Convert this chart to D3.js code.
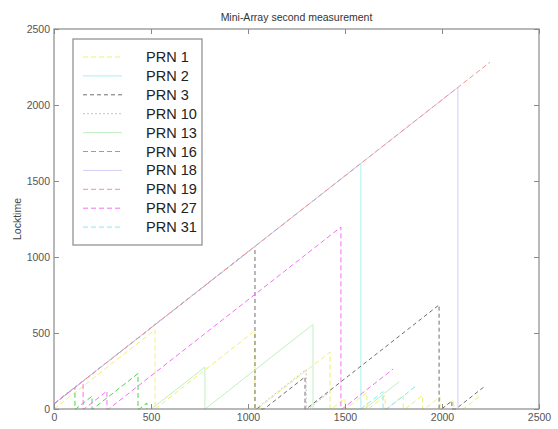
<!DOCTYPE html>
<html>
<head>
<meta charset="utf-8">
<script src="https://cdn.jsdelivr.net/npm/d3@7"></script>
<style>
  html, body { margin: 0; padding: 0; background: #fff; }
  svg { display: block; }
  text { font-family: "Liberation Sans", Arial, Helvetica, sans-serif; }
</style>
</head>
<body>
<svg id="chart" width="558" height="429"></svg>
<script>
// Locktime (s) of each tracked satellite against elapsed time (s).
// Each series is a list of [time, locktime] vertices of its sawtooth trace.
const prnNames = ["PRN 1", "PRN 2", "PRN 3", "PRN 10", "PRN 13", "PRN 16", "PRN 18", "PRN 19", "PRN 27", "PRN 31"];

const prn1 = [[0,0],[521,521],[521,0],[1036,515],[1036,0],[1048,0],[1423,375],[1423,0],
  [1430,0],[1500,70],[1500,0],[1505,0],[1613,108],[1613,0],[1620,0],[1707,87],[1707,0],
  [1712,0],[1800,88],[1800,0],[1810,0],[1900,90],[1900,0],[1910,0],[1990,80],[1990,0],
  [2000,0],[2060,60],[2060,0],[2110,0],[2200,90]];
const prn2 = [[0,34],[1582,1616],[1582,0]];
const prn3 = [[0,34],[1036,1070],[1036,0],[1045,0],[1060,15],[1060,0],[1083,0],[1294,211],[1294,0],
  [1300,0],[1985,685],[1985,0],[1998,0],[2051,53],[2051,0],[2071,0],[2222,151]];
const prn10 = [[1040,0],[1300,260],[1300,0],[1310,0],[1420,110]];
const prn13 = [[502,0],[778,276],[778,0],[779,0],[1335,556],[1335,0],[1600,0],[1780,180]];
const prn16 = [[0,34],[108,142],[108,0],[112,0],[196,84],[196,0],[200,0],[433,233],[433,0],
  [440,0],[479,39],[479,0]];
const prn18 = [[0,34],[2082,2116],[2082,0]];
const prn19 = [[0,34],[2247,2281]];
const prn27 = [[0,34],[150,184],[150,0],[155,0],[273,118],[273,0],[282,0],[1479,1197],[1479,0],
  [1485,0],[1748,263]];
const prn31 = [[1582,0],[1696,114],[1696,0],[1715,0],[1861,146]];

const seriesData = [prn1, prn2, prn3, prn10, prn13, prn16, prn18, prn19, prn27, prn31];

// Axis ranges and tick labels
const xTicks = [0, 500, 1000, 1500, 2000, 2500];
const yTicks = [0, 500, 1000, 1500, 2000, 2500];

// Line appearance per PRN
const colors = ["#f0f070", "#a0f2f2", "#6e6e6e", "#c4c4c4", "#c0f0c0", "#46d846", "#d4ccf8", "#f49090", "#f470f4", "#7cecee"];
const dashes = ["5,3", null, "4,3", "2,2", null, "5,3", null, "5,3", "5,3", "5,3"];

const svg = d3.select("#chart");
const m = { left: 54, right: 539, top: 29, bottom: 409 };

const x = d3.scaleLinear().domain([0, 2500]).range([m.left, m.right]);
const y = d3.scaleLinear().domain([0, 2500]).range([m.bottom, m.top]);

// Traces
const line = d3.line().x(d => x(d[0])).y(d => y(d[1]));
svg.append("g").selectAll("path").data(seriesData).join("path")
  .attr("d", line)
  .attr("fill", "none")
  .attr("stroke", (d, i) => colors[i])
  .attr("stroke-width", 1)
  .attr("stroke-dasharray", (d, i) => dashes[i]);

// Axes box with inward ticks on all sides
const axisColor = "#8a8a8a";
const box = svg.append("g");
box.append("rect")
  .attr("x", m.left).attr("y", m.top)
  .attr("width", m.right - m.left).attr("height", m.bottom - m.top)
  .attr("fill", "none").attr("stroke", axisColor).attr("stroke-width", 1.2);

const bottomAxis = d3.axisBottom(x).tickValues(xTicks).tickSize(-5).tickPadding(5).tickFormat(d3.format("d"));
const leftAxis = d3.axisLeft(y).tickValues(yTicks).tickSize(-5).tickPadding(4).tickFormat(d3.format("d"));
const topAxis = d3.axisTop(x).tickValues(xTicks).tickSize(-5).tickFormat("");
const rightAxis = d3.axisRight(y).tickValues(yTicks).tickSize(-5).tickFormat("");

function styleAxis(g) {
  g.select(".domain").remove();
  g.selectAll(".tick line").attr("stroke", axisColor);
  g.selectAll(".tick text").attr("fill", "#555").attr("font-size", 10.5);
}
svg.append("g").attr("transform", `translate(0,${m.bottom})`).call(bottomAxis).call(styleAxis);
svg.append("g").attr("transform", `translate(${m.left},0)`).call(leftAxis).call(styleAxis);
svg.append("g").attr("transform", `translate(0,${m.top})`).call(topAxis).call(styleAxis);
svg.append("g").attr("transform", `translate(${m.right},0)`).call(rightAxis).call(styleAxis);

// Title and y label
svg.append("text")
  .attr("x", (m.left + m.right) / 2).attr("y", 21)
  .attr("text-anchor", "middle").attr("font-size", 10.5).attr("fill", "#333")
  .text("Mini-Array second measurement");
svg.append("text")
  .attr("transform", `translate(21,${(m.top + m.bottom) / 2}) rotate(-90)`)
  .attr("text-anchor", "middle").attr("font-size", 10.5).attr("fill", "#444")
  .text("Locktime");

// Legend
const lg = svg.append("g");
lg.append("rect")
  .attr("x", 73).attr("y", 39).attr("width", 129).attr("height", 206)
  .attr("fill", "#fff").attr("stroke", axisColor).attr("stroke-width", 1.2);
const rowY = i => 57 + i * 18.9;
lg.selectAll("line.key").data(prnNames).join("line")
  .attr("class", "key")
  .attr("x1", 83).attr("x2", 122)
  .attr("y1", (d, i) => rowY(i)).attr("y2", (d, i) => rowY(i))
  .attr("stroke", (d, i) => colors[i])
  .attr("stroke-width", 1)
  .attr("stroke-dasharray", (d, i) => dashes[i]);
lg.selectAll("text.lab").data(prnNames).join("text")
  .attr("class", "lab")
  .attr("x", 146).attr("y", (d, i) => rowY(i) + 5)
  .attr("font-size", 14.5).attr("fill", "#222")
  .text(d => d);
</script>
</body>
</html>
